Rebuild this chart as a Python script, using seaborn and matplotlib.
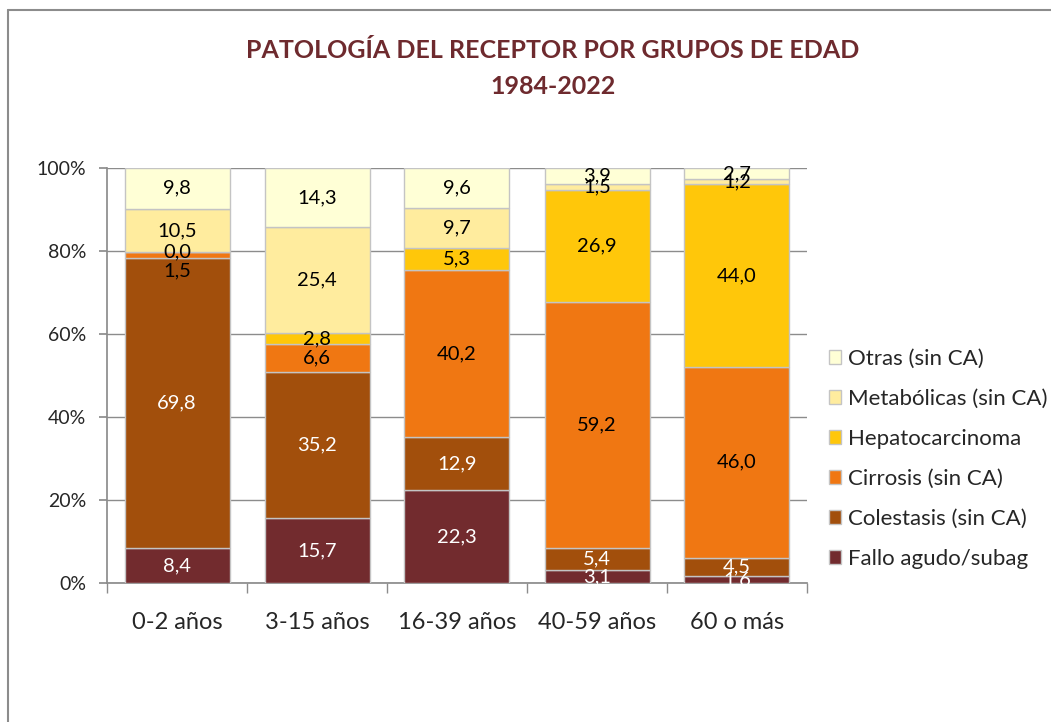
import numpy as np
import pandas as pd
import matplotlib.pyplot as plt
import seaborn as sns
from matplotlib.lines import Line2D
from matplotlib.ticker import FuncFormatter

# Datos
grupos = ['0-2 años', '3-15 años', '16-39 años', '40-59 años', '60 o más']
series = ['Fallo agudo/subag', 'Colestasis (sin CA)', 'Cirrosis (sin CA)',
          'Hepatocarcinoma', 'Metabólicas (sin CA)', 'Otras (sin CA)']
fallo = [8.4, 15.7, 22.3, 3.1, 1.6]
colestasis = [69.8, 35.2, 12.9, 5.4, 4.5]
cirrosis = [1.5, 6.6, 40.2, 59.2, 46.0]
hepato = [0.0, 2.8, 5.3, 26.9, 44.0]
metabolicas = [10.5, 25.4, 9.7, 1.5, 1.2]
otras = [9.8, 14.3, 9.6, 3.9, 2.7]

colores = ['#722b2e', '#a24f0c', '#f07712', '#ffc70a', '#ffec9e', '#ffffd6']
color_texto = ['white', 'white', 'black', 'black', 'black', 'black']

sns.set_theme(style="white")
plt.rcParams['font.family'] = ['Lato', 'DejaVu Sans']

df = pd.DataFrame({'grupo': grupos, series[0]: fallo, series[1]: colestasis,
                   series[2]: cirrosis, series[3]: hepato,
                   series[4]: metabolicas, series[5]: otras})

fig = plt.figure(figsize=(10.51, 7.22), dpi=100)
ax = fig.add_axes([107/1051, 1-583/722, 700/1051, 415/722])

base = np.zeros(len(grupos))
for i, s in enumerate(series):
    sns.barplot(data=df, x='grupo', y=s, bottom=base, color=colores[i],
                saturation=1, width=0.75, errorbar=None, ax=ax, label=s,
                edgecolor='#c4c4c4', linewidth=1.0, zorder=3)
    cont = ax.containers[-1]
    etiquetas = [f"{v:.1f}".replace('.', ',') for v in df[s]]
    anots = ax.bar_label(cont, labels=etiquetas, label_type='center',
                         color=color_texto[i], fontsize=14.5, zorder=6)
    # en el primer grupo la etiqueta de cirrosis queda desplazada hacia abajo
    if s == 'Cirrosis (sin CA)':
        anots[0].xyann = (0, -11)
    base = base + df[s].values

ax.set_ylim(0, 100)
ax.set_xlim(-0.5, len(grupos) - 0.5)
ax.set_yticks(range(0, 101, 20))
ax.yaxis.set_major_formatter(FuncFormatter(lambda v, p: f"{v:.0f}%"))
ax.set_xlabel('')
ax.set_ylabel('')
ax.grid(axis='y', color='#8c8c8c', linewidth=1, zorder=0)
ax.set_axisbelow(True)
for lado in ['top', 'right']:
    ax.spines[lado].set_visible(False)
for lado in ['left', 'bottom']:
    ax.spines[lado].set_color('#8c8c8c')
ax.tick_params(axis='y', labelsize=14, length=6, color='#8c8c8c', left=True,
               direction='out', pad=9)
ax.tick_params(axis='x', labelsize=17, length=0, pad=21)
ax.set_xticks(np.arange(-0.5, len(grupos)), minor=True)
ax.tick_params(axis='x', which='minor', length=7, color='#8c8c8c', bottom=True,
               direction='out')

# Titulo
fig.text(553/1051, 1-50/722, 'PATOLOGÍA DEL RECEPTOR POR GRUPOS DE EDAD',
         ha='center', va='center', fontsize=18, fontweight='bold', color='#6e2a2e')
fig.text(553/1051, 1-86/722, '1984-2022', ha='center', va='center',
         fontsize=18, fontweight='bold', color='#6e2a2e')

# Leyenda
handles, labels = ax.get_legend_handles_labels()
if ax.get_legend() is not None:
    ax.get_legend().remove()
fig.legend(handles[::-1], labels[::-1], loc='upper left',
           bbox_to_anchor=(829/1051, 1-349/722), frameon=False, fontsize=16,
           handlelength=0.55, handleheight=0.55, handletextpad=0.3,
           labelspacing=0.9, borderaxespad=0, borderpad=0)

# Marco del grafico
fig.add_artist(Line2D([8/1051, 8/1051], [0, 1-10/722], color='#8c8c8c', lw=1.5))
fig.add_artist(Line2D([8/1051, 1], [1-10/722, 1-10/722], color='#8c8c8c', lw=1.5))

fig.savefig('out.png', dpi=100)
